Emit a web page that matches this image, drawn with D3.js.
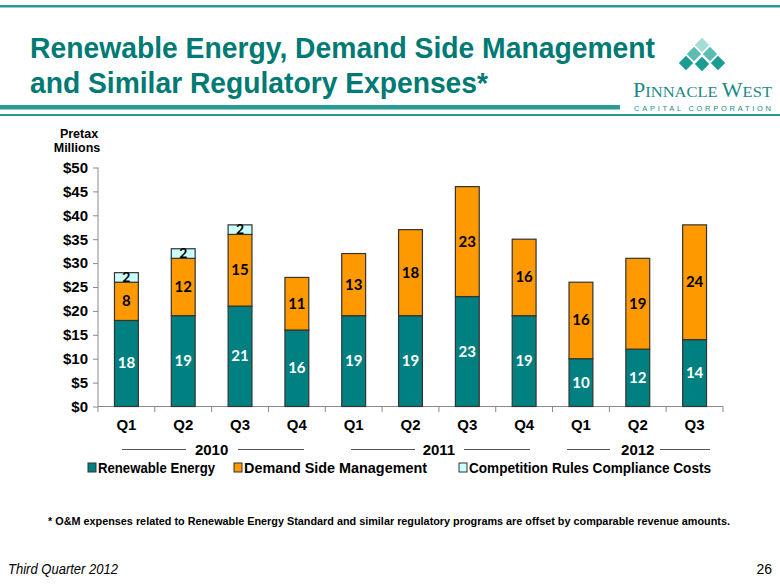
<!DOCTYPE html>
<html><head><meta charset="utf-8">
<script src="https://cdn.jsdelivr.net/npm/d3@7"></script>
<style>
html,body{margin:0;padding:0;background:#fff;}
svg{display:block;}
</style></head>
<body>
<svg id="c" width="780" height="585"></svg>
<script>
const quarters = ["Q1","Q2","Q3","Q4","Q1","Q2","Q3","Q4","Q1","Q2","Q3"];
const renewable = [18,19,21,16,19,19,23,19,10,12,14];
const dsm = [8,12,15,11,13,18,23,16,16,19,24];
const competition = [2,2,2,0,0,0,0,0,0,0,0];
const years = ["2010","2011","2012"];
const yearSpans = [[0,3],[4,7],[8,10]];
const yTicks = [0,5,10,15,20,25,30,35,40,45,50];
const seriesNames = ["Renewable Energy","Demand Side Management","Competition Rules Compliance Costs"];
const colors = ["#008080","#FF9900","#CCFFFF"];

const svg = d3.select("#c");
const teal = "#007A74";

// header lines
svg.append("rect").attr("x",0).attr("y",5).attr("width",780).attr("height",2.5).attr("fill","#2a9a94");
svg.append("rect").attr("x",0).attr("y",105).attr("width",620).attr("height",4.5).attr("fill","#2a9a94");
svg.append("rect").attr("x",0).attr("y",114).attr("width",780).attr("height",2).attr("fill","#2a9a94");

// title
const title = svg.append("g").attr("font-family","Liberation Sans, Arial, sans-serif").attr("font-weight","bold").attr("fill",teal).attr("font-size",29);
title.append("text").attr("x",30).attr("y",58).attr("textLength",625).attr("lengthAdjust","spacingAndGlyphs").text("Renewable Energy, Demand Side Management");
title.append("text").attr("x",30).attr("y",93).attr("textLength",458).attr("lengthAdjust","spacingAndGlyphs").text("and Similar Regulatory Expenses*");

// logo diamonds
const dia = [[702,45,"#a6dcd6"],[694,54,"#5cbcb4"],[710,54,"#5cbcb4"],[686,63,"#1a9c94"],[702,64,"#1a9c94"],[718,63,"#1a9c94"]];
dia.forEach(([cx,cy,c])=>{
  const h=7.2;
  svg.append("path").attr("d",`M${cx},${cy-h}L${cx+h},${cy}L${cx},${cy+h}L${cx-h},${cy}Z`).attr("fill",c);
});
const lg = svg.append("text").attr("x",633).attr("y",97).attr("font-family","Liberation Serif, DejaVu Serif, serif").attr("fill","#1a8a84").attr("textLength",139).attr("lengthAdjust","spacingAndGlyphs");
lg.append("tspan").attr("font-size",20).text("P");
lg.append("tspan").attr("font-size",15).text("INNACLE ");
lg.append("tspan").attr("font-size",20).text("W");
lg.append("tspan").attr("font-size",15).text("EST");
svg.append("text").attr("x",634).attr("y",111).attr("font-family","Liberation Sans, Arial, sans-serif").attr("font-size",7.5).attr("fill","#1a8a84").attr("textLength",137).attr("lengthAdjust","spacing").text("CAPITAL CORPORATION");

// chart
const x = d3.scaleBand().domain(d3.range(quarters.length)).range([98,723]).paddingInner(0.58).paddingOuter(0.29);
const y = d3.scaleLinear().domain([0,50]).range([406.5,167.5]);

const axisColor = "#8a8a8a";
const yAxis = svg.append("g").attr("transform","translate(98,0)")
  .call(d3.axisLeft(y).tickValues(yTicks).tickSize(5).tickPadding(5).tickFormat(d=>"$"+d));
yAxis.select(".domain").attr("stroke",axisColor).attr("d","M0,167.5V406.5");
yAxis.selectAll(".tick line").attr("stroke",axisColor);
yAxis.selectAll("text").attr("font-family","Liberation Sans, Arial, sans-serif").attr("font-weight","bold").attr("font-size",15).attr("fill","#000");

// x axis baseline + boundary ticks
const step = x.step();
svg.append("line").attr("x1",98).attr("x2",723).attr("y1",406.5).attr("y2",406.5).attr("stroke",axisColor);
d3.range(quarters.length+1).forEach(i=>{
  const xx = 98 + i*step;
  svg.append("line").attr("x1",xx).attr("x2",xx).attr("y1",406.5).attr("y2",412).attr("stroke",axisColor);
});
svg.append("g").selectAll("text").data(quarters).join("text")
  .attr("x",(d,i)=>x(i)+x.bandwidth()/2).attr("y",430).attr("text-anchor","middle")
  .attr("font-family","Liberation Sans, Arial, sans-serif").attr("font-weight","bold").attr("font-size",15).text(d=>d);

// pretax millions
const pm = svg.append("g").attr("font-family","Liberation Sans, Arial, sans-serif").attr("font-weight","bold").attr("font-size",12.5).attr("text-anchor","middle");
pm.append("text").attr("x",79).attr("y",138).text("Pretax");
pm.append("text").attr("x",77).attr("y",152).text("Millions");

// stacked bars
const data = quarters.map((q,i)=>({i, r:renewable[i], d:dsm[i], c:competition[i]}));
const stack = d3.stack().keys(["r","d","c"])(data);
const g = svg.append("g");
stack.forEach((layer,li)=>{
  g.append("g").selectAll("rect").data(layer.filter(s=>s[1]-s[0]>0)).join("rect")
    .attr("x",s=>x(s.data.i)).attr("width",x.bandwidth())
    .attr("y",s=>y(s[1])).attr("height",s=>y(s[0])-y(s[1]))
    .attr("fill",colors[li]).attr("stroke","#333").attr("stroke-width",1.2);
});
stack.forEach((layer,li)=>{
  g.append("g").selectAll("text").data(layer.filter(s=>s[1]-s[0]>0)).join("text")
    .attr("x",s=>x(s.data.i)+x.bandwidth()/2)
    .attr("y",s=>li===2 ? y(s[1])+9 : (y(s[0])+y(s[1]))/2+5)
    .attr("text-anchor","middle")
    .attr("font-family","Lato, Open Sans, sans-serif").attr("font-weight","bold")
    .attr("font-size",li===2?14:15)
    .attr("fill",li===0?"#fff":"#000")
    .text(s=>s[1]-s[0]);
});

// year labels with lines
const yl = svg.append("g");
const lineSegs = [[122,186,238,304],[351,415,464,530],[567,610,660,710]];
years.forEach((yr,k)=>{
  const [a,b] = yearSpans[k];
  const cx = (x(a)+x(b)+x.bandwidth())/2;
  yl.append("text").attr("x",cx).attr("y",455).attr("text-anchor","middle")
    .attr("font-family","Liberation Sans, Arial, sans-serif").attr("font-weight","bold").attr("font-size",15).text(yr);
  const s = lineSegs[k];
  yl.append("line").attr("x1",s[0]).attr("x2",s[1]).attr("y1",449.5).attr("y2",449.5).attr("stroke","#555");
  yl.append("line").attr("x1",s[2]).attr("x2",s[3]).attr("y1",449.5).attr("y2",449.5).attr("stroke","#555");
});

// legend
const legX = [88,234,459];
const legW = [117,183,242];
const leg = svg.append("g");
seriesNames.forEach((n,k)=>{
  leg.append("rect").attr("x",legX[k]).attr("y",463).attr("width",8).attr("height",9).attr("fill",colors[k]).attr("stroke","#333");
  leg.append("text").attr("x",legX[k]+10).attr("y",473).attr("font-family","Liberation Sans, Arial, sans-serif").attr("font-weight","bold").attr("font-size",14)
    .attr("textLength",legW[k]).attr("lengthAdjust","spacingAndGlyphs").text(n);
});

// footnote
svg.append("text").attr("x",48).attr("y",525).attr("font-family","Liberation Sans, Arial, sans-serif").attr("font-weight","bold").attr("font-size",11)
  .attr("textLength",682).attr("lengthAdjust","spacingAndGlyphs")
  .text("* O&M expenses related to Renewable Energy Standard and similar regulatory programs are offset by comparable revenue amounts.");
svg.append("text").attr("x",8).attr("y",574).attr("font-family","Liberation Sans, Arial, sans-serif").attr("font-style","italic").attr("font-size",14).attr("textLength",110).attr("lengthAdjust","spacingAndGlyphs").text("Third Quarter 2012");
svg.append("text").attr("x",772).attr("y",574).attr("text-anchor","end").attr("font-family","Liberation Sans, Arial, sans-serif").attr("font-size",14).text("26");
</script>
</body></html>
